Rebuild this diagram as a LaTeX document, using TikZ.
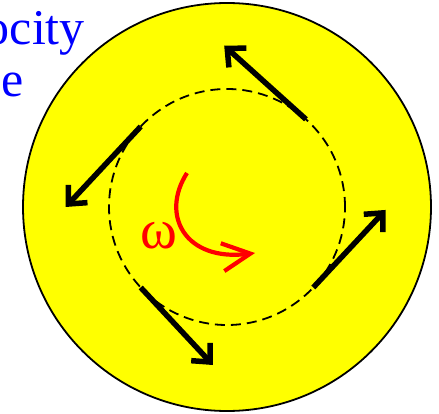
\documentclass[tikz,border=0pt]{standalone}
\usepackage{fontspec}
\setmainfont{Liberation Serif}
\usepackage{tikz}
\usetikzlibrary{arrows.meta, calc}
\definecolor{disc}{HTML}{FFFF00}
\definecolor{labelblue}{HTML}{0000FF}
\definecolor{spinred}{HTML}{FF0000}

\begin{document}
\begin{tikzpicture}[x=1pt, y=1pt,
  lbl/.style={anchor=base east, inner sep=0pt, text=labelblue,
    font=\fontsize{50}{58}\selectfont},
  vel/.style={-{Straight Barb[length=14pt, width=26pt]}, line width=5.5pt, black},
  spin/.style={-{Straight Barb[length=28pt, width=28pt]}, line width=4.2pt, spinred}]
\useasboundingbox (0,0) rectangle (439,413);

% ---- disc and reference circle ------------------------------------------
\coordinate (c) at (227,206);
\fill[disc] (c) circle (204);
\draw[line width=1.8pt] (c) circle (204);
\draw[line width=1.8pt, dash pattern=on 10pt off 6pt] (c) circle (118);

% ---- label, cut off at the left -----------------------------------------
\node[lbl] (lbla) at (85,368) {ocity};
\node[lbl] (lblb) at (24,316) {le};

% ---- tangential velocities ----------------------------------------------
\coordinate (s1) at ($(c)+(48:118)$);
\coordinate (e1) at ($(s1)+(138:110)$);
\coordinate (s2) at ($(c)+(137:118)$);
\coordinate (e2) at ($(s2)+(227:110)$);
\coordinate (s3) at ($(c)+(223:118)$);
\coordinate (e3) at ($(s3)+(313:106)$);
\coordinate (s4) at ($(c)+(317:118)$);
\coordinate (e4) at ($(s4)+(47:106)$);
\draw[vel] (s1) -- (e1);
\draw[vel] (s2) -- (e2);
\draw[vel] (s3) -- (e3);
\draw[vel] (s4) -- (e4);

% ---- angular velocity ---------------------------------------------------
\node[text=spinred, inner sep=0pt, font=\fontsize{56}{60}\selectfont]
  (omega) at (159,177) {ω};
\coordinate (w0) at (187,240);
\coordinate (w1) at (255,160);
\draw[spin] (w0) .. controls (160,198) and (185,151) .. (w1);
\end{tikzpicture}
\end{document}
